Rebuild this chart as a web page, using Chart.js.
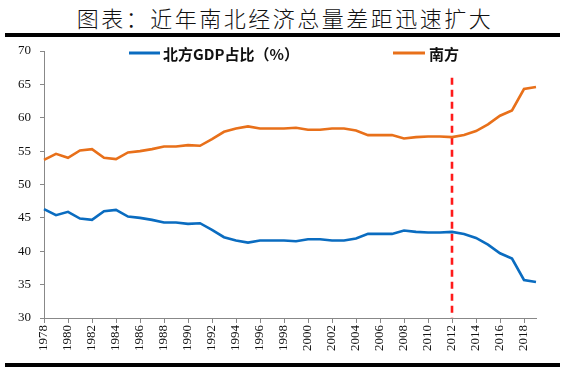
<!DOCTYPE html>
<html>
<head>
<meta charset="utf-8">
<script src="https://cdn.jsdelivr.net/npm/chart.js@4/dist/chart.umd.min.js"></script>
<style>
  html, body { margin: 0; padding: 0; background: #fff; }
  #wrap { position: relative; width: 570px; height: 377px; overflow: hidden; }
  #title { position: absolute; left: 0; top: 4px; width: 570px; text-align: center;
    font-family: "Noto Sans CJK SC", sans-serif; font-size: 22px; font-weight: 300;
    letter-spacing: 2.5px; color: #111; line-height: 26px; }
  #topbar { position: absolute; left: 5px; top: 33px; width: 555px; height: 4px; background: #000; }
  #botbar { position: absolute; left: 5px; top: 363px; width: 555px; height: 4px; background: #000; }
  canvas { position: absolute; left: 0; top: 0; }
</style>
</head>
<body>
<div id="wrap">
  <div id="title">图表：近年南北经济总量差距迅速扩大</div>
  <div id="topbar"></div>
  <canvas id="c" width="570" height="377"></canvas>
  <div id="botbar"></div>
</div>
<script>
const years = ["1978","1979","1980","1981","1982","1983","1984","1985","1986","1987",
  "1988","1989","1990","1991","1992","1993","1994","1995","1996","1997",
  "1998","1999","2000","2001","2002","2003","2004","2005","2006","2007",
  "2008","2009","2010","2011","2012","2013","2014","2015","2016","2017",
  "2018","2019"];
const northShare = [46.3,45.4,45.9,44.9,44.7,46.0,46.2,45.2,45.0,44.7,
  44.3,44.3,44.1,44.2,43.2,42.1,41.6,41.3,41.6,41.6,
  41.6,41.5,41.8,41.8,41.6,41.6,41.9,42.6,42.6,42.6,
  43.1,42.9,42.8,42.8,42.9,42.6,42.0,41.0,39.7,38.9,
  35.7,35.4];
const southShare = [53.7,54.6,54.0,55.1,55.3,54.0,53.8,54.8,55.0,55.3,
  55.7,55.7,55.9,55.8,56.8,57.9,58.4,58.7,58.4,58.4,
  58.4,58.5,58.2,58.2,58.4,58.4,58.1,57.4,57.4,57.4,
  56.9,57.1,57.2,57.2,57.1,57.4,58.0,59.0,60.3,61.1,
  64.3,64.6];
const seriesNames = ["北方GDP占比（%）", "南方"];
const markerYear = "2012";
const markerRange = [66, 30];
const yTicks = [30, 35, 40, 45, 50, 55, 60, 65, 70];

const BLUE = "#0a6cc0", ORANGE = "#e8701a", AXIS = "#888888";

const legendPlugin = {
  id: "customLegend",
  afterDraw(chart) {
    const ctx = chart.ctx;
    const items = [
      { ds: chart.data.datasets[0], x0: 129, x1: 160, tx: 163 },
      { ds: chart.data.datasets[1], x0: 393, x1: 425, tx: 429 }
    ];
    const y = 53;
    ctx.save();
    items.forEach(it => {
      ctx.strokeStyle = it.ds.borderColor;
      ctx.lineWidth = 3;
      ctx.beginPath(); ctx.moveTo(it.x0, y); ctx.lineTo(it.x1, y); ctx.stroke();
      ctx.fillStyle = "#111";
      ctx.font = "bold 15px 'Noto Sans CJK SC', sans-serif";
      ctx.textBaseline = "middle";
      ctx.textAlign = "left";
      ctx.fillText(it.ds.label, it.tx, y + 1);
    });
    ctx.restore();
  }
};

new Chart(document.getElementById("c"), {
  type: "line",
  data: {
    labels: years,
    datasets: [
      { label: seriesNames[0], data: northShare, borderColor: BLUE, borderWidth: 2.6,
        pointRadius: 0, tension: 0, fill: false },
      { label: seriesNames[1], data: southShare, borderColor: ORANGE, borderWidth: 2.6,
        pointRadius: 0, tension: 0, fill: false },
      { label: "2012", data: [{x: markerYear, y: markerRange[0]}, {x: markerYear, y: markerRange[1]}],
        borderColor: "#ff1a1a", borderWidth: 2.6, borderDash: [7, 5], pointRadius: 0, fill: false }
    ]
  },
  options: {
    responsive: false,
    animation: false,
    layout: { padding: { top: 51, left: 0, right: 34, bottom: 0 } },
    plugins: { legend: { display: false }, title: { display: false }, tooltip: { enabled: false } },
    scales: {
      x: {
        type: "category",
        offset: false,
        afterFit(s) { s.height = 59; },
        border: { display: true, color: AXIS, width: 1 },
        grid: {
          drawOnChartArea: false, drawTicks: true, tickLength: 5,
          color: c => (c.index % 2 === 0 ? AXIS : "rgba(0,0,0,0)")
        },
        ticks: {
          autoSkip: false, maxRotation: 90, minRotation: 90, padding: 2,
          color: "#111",
          font: { family: "'Liberation Serif', serif", size: 13 },
          callback: function(v, i) { return i % 2 === 0 ? this.getLabelForValue(v) : ""; }
        }
      },
      y: {
        min: 30, max: 70,
        afterFit(s) { s.width = 44; },
        afterBuildTicks(s) { s.ticks = yTicks.map(v => ({ value: v })); },
        border: { display: true, color: AXIS, width: 1 },
        grid: { drawOnChartArea: false, drawTicks: true, tickLength: 4, color: AXIS },
        ticks: {
          padding: 9, color: "#111",
          font: { family: "'Liberation Serif', serif", size: 13 }
        }
      }
    }
  },
  plugins: [legendPlugin]
});
</script>
</body>
</html>
